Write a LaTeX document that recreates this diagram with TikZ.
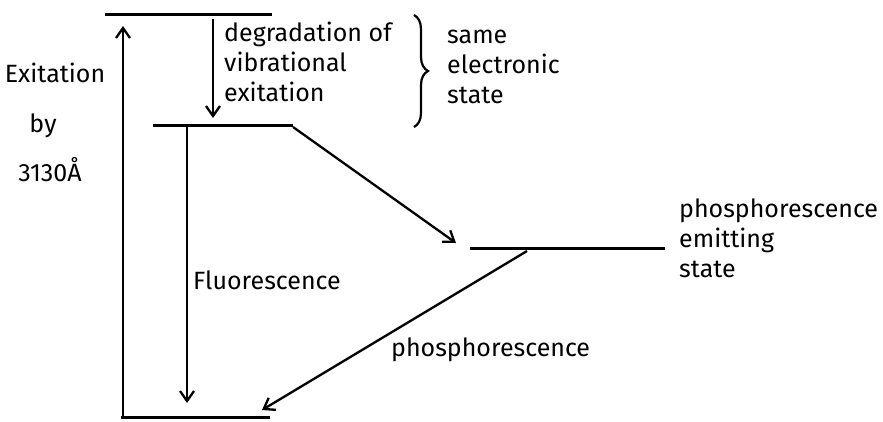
\documentclass[tikz,border=0pt]{standalone}
\usepackage{fontspec}
\setmainfont{Fira Sans}
\usetikzlibrary{arrows.meta,decorations.pathreplacing}
\begin{document}
\begin{tikzpicture}[x=1pt,y=-1pt,
  level/.style={line width=3pt},
  trans/.style={line width=2.3pt,-{Straight Barb[length=10pt,width=14pt,line width=2.3pt]}},
  lab/.style={font=\fontsize{25}{30}\selectfont, align=left, inner sep=0pt}]
\useasboundingbox (0,0) rectangle (883,421);
% energy levels
\coordinate (topL) at (105,14);   \coordinate (topR) at (272,14);
\coordinate (s1L) at (153,125);   \coordinate (s1R) at (293,125);
\coordinate (tL) at (470,248);    \coordinate (tR) at (665,248);
\coordinate (gL) at (121,417);    \coordinate (gR) at (270,417);
\draw[level] (topL) -- (topR);
\draw[level] (s1L) -- (s1R);
\draw[level] (tL) -- (tR);
\draw[level] (gL) -- (gR);
% transition endpoints
\coordinate (exA) at (123,417);  \coordinate (exB) at (123,26);
\coordinate (dgA) at (213,19);   \coordinate (dgB) at (213,118);
\coordinate (flA) at (187,127);  \coordinate (flB) at (187,403);
\coordinate (isA) at (293,127);  \coordinate (isB) at (456,243);
\coordinate (phA) at (527,251);  \coordinate (phB) at (262,410);
\draw[trans] (exA) -- (exB);
\draw[trans] (dgA) -- (dgB);
\draw[trans] (flA) -- (flB);
\draw[trans] (isA) -- (isB);
\draw[trans] (phA) -- (phB);
% brace
\coordinate (brA) at (414,15); \coordinate (brB) at (414,127);
\draw[line width=2.2pt, decorate, decoration={brace, amplitude=14pt}] (brA) -- (brB);
% labels
\node[lab] (exc) at (55,73) {Exitation};
\node[lab] (by) at (43,126) {by};
\node[lab] (wl) at (50,170) {3130Å};
\node[lab, anchor=west] (deg) at (224,62) {degradation of\\vibrational\\exitation};
\node[lab, anchor=west] (same) at (447,67) {same\\electronic\\state};
\node[lab, anchor=west] (pes) at (679,238) {phosphorescence\\emitting\\state};
\node[lab, anchor=west] (fl) at (193,280) {Fluorescence};
\node[lab, anchor=west] (ph) at (391,350) {phosphorescence};
\end{tikzpicture}
\end{document}
